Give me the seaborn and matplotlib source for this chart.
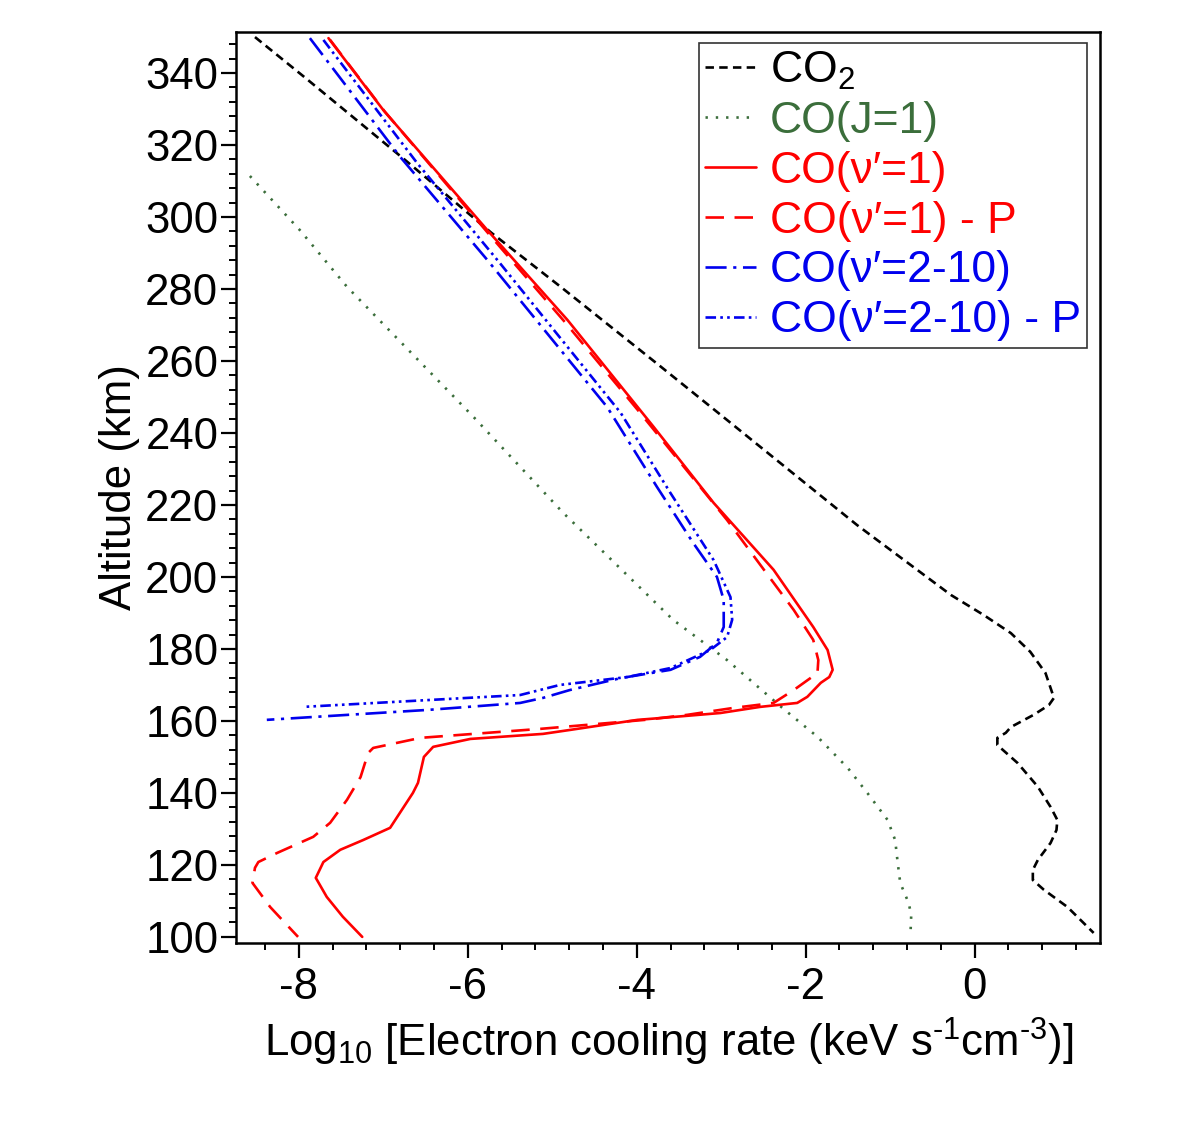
"""Electron cooling rate profiles vs altitude."""

import numpy as np
import pandas as pd
import seaborn as sns
import matplotlib
matplotlib.use("Agg")
import matplotlib.pyplot as plt
from matplotlib.ticker import MultipleLocator

# --- data: (log10 cooling rate, altitude km) ---
co2_x = [-8.52, -7.92, -6.74, -5.72, -4.90, -3.74, -2.93, -1.39, -0.28, 0.11,
         0.43, 0.66, 0.84, 0.94, 0.88, 0.70, 0.43, 0.37, 0.27, 0.27, 0.51,
         0.75, 0.90, 0.98, 0.97, 0.90, 0.75, 0.69, 0.69, 0.82, 1.10, 1.41]
co2_alt = [350.0, 338.6, 315.8, 295.6, 280.6, 258.9, 243.6, 214.4, 195.0, 189.4,
           184.4, 179.2, 173.3, 166.4, 164.4, 161.7, 158.3, 156.7, 155.3, 153.3,
           148.3, 141.7, 136.1, 132.5, 129.7, 126.1, 121.4, 118.6, 115.8, 113.1,
           108.3, 101.1]

coj1_x = [-8.58, -7.99, -7.43, -5.93, -4.87, -3.57, -2.93, -2.26, -1.86, -1.50,
          -1.26, -1.03, -0.94, -0.91, -0.88, -0.78, -0.75, -0.76]
coj1_alt = [311.4, 296.4, 280.6, 244.4, 217.8, 188.1, 176.9, 163.3, 155.6, 146.9,
            139.7, 132.5, 126.9, 120.6, 115.0, 109.4, 106.1, 100.0]

cov1_x = [-7.65, -7.00, -5.77, -4.82, -3.80, -3.09, -2.38, -1.91, -1.74, -1.68,
          -1.72, -1.82, -1.98, -2.10, -2.54, -3.01, -3.72, -3.99, -4.79, -5.11,
          -5.97, -6.41, -6.52, -6.59, -6.65, -6.92, -7.24, -7.51, -7.71, -7.80,
          -7.67, -7.48, -7.25]
cov1_alt = [349.7, 329.7, 296.4, 271.4, 241.7, 220.6, 202.0, 186.1, 179.7, 174.2,
            172.2, 170.6, 166.7, 165.0, 163.9, 162.2, 160.8, 160.3, 157.5, 156.4,
            155.0, 152.8, 150.0, 142.8, 140.0, 130.3, 126.9, 124.2, 120.8, 116.4,
            111.1, 105.6, 100.0]

cov1p_x = [-7.63, -6.98, -5.77, -4.85, -3.96, -2.93, -2.14, -1.91, -1.85, -1.86,
           -2.14, -2.38, -2.86, -3.40, -3.90, -5.14, -6.56, -7.12, -7.18, -7.27,
           -7.43, -7.63, -7.83, -8.26, -8.48, -8.52, -8.55, -8.34, -8.01]
cov1p_alt = [349.2, 329.2, 295.8, 270.8, 245.6, 215.8, 190.8, 182.5, 176.9, 173.3,
             168.6, 165.0, 163.6, 161.7, 160.3, 157.8, 155.3, 152.5, 151.1, 144.4,
             138.1, 131.7, 127.8, 123.3, 120.8, 119.2, 115.0, 108.3, 100.0]

cov2_x = [-7.87, -6.80, -5.77, -4.35, -3.76, -3.33, -3.05, -2.97, -2.97, -3.05,
          -3.25, -3.60, -4.19, -4.79, -5.11, -5.38, -6.45, -8.38]
cov2_alt = [349.7, 316.7, 288.1, 247.2, 225.0, 209.4, 200.0, 193.6, 186.1, 181.7,
            177.8, 174.2, 171.9, 168.6, 166.4, 165.0, 163.1, 160.3]

cov2p_x = [-7.71, -6.60, -5.62, -4.19, -3.60, -3.09, -2.89, -2.87, -2.93, -3.13,
           -3.60, -4.11, -4.91, -5.38, -7.95]
cov2p_alt = [349.2, 315.0, 287.2, 245.6, 223.3, 204.7, 194.4, 188.1, 183.3, 179.7,
             174.7, 172.2, 170.0, 167.2, 163.9]

GREEN = "#3b6e3b"
RED = "#ff0000"
BLUE = "#0000ee"

series = [
    ("CO$_2$", co2_x, co2_alt, "black", (0, (3.2, 2.0))),
    ("CO(J=1)", coj1_x, coj1_alt, GREEN, (0, (0.9, 3.0))),
    ("CO(\u03bd\u2032=1)", cov1_x, cov1_alt, RED, "-"),
    ("CO(\u03bd\u2032=1) - P", cov1p_x, cov1p_alt, RED, (0, (7, 4))),
    ("CO(\u03bd\u2032=2-10)", cov2_x, cov2_alt, BLUE, (0, (8, 2.5, 1.2, 2.5))),
    ("CO(\u03bd\u2032=2-10) - P", cov2p_x, cov2p_alt, BLUE,
     (0, (4, 1.6, 1.0, 1.6, 1.0, 1.6))),
]

sns.set_style("ticks")
plt.rcParams["font.family"] = ["Liberation Sans", "DejaVu Sans"]
plt.rcParams["mathtext.default"] = "regular"
plt.rcParams["axes.unicode_minus"] = False
for key in ["text.color", "axes.labelcolor", "xtick.color", "ytick.color"]:
    plt.rcParams[key] = "black"

fig = plt.figure(figsize=(12, 11.28), dpi=100)
ax = fig.add_axes([0.197, 0.164, 0.72, 0.8076])

for label, xs, ys, color, ls in series:
    df = pd.DataFrame({"rate": xs, "alt": ys})
    sns.lineplot(data=df, x="rate", y="alt", sort=False, estimator=None,
                 color=color, linestyle=ls, linewidth=1.9, label=label, ax=ax)

ax.set_xlim(-8.74, 1.49)
ax.set_ylim(98.3, 351.4)
ax.xaxis.set_major_locator(MultipleLocator(2))
ax.xaxis.set_minor_locator(MultipleLocator(0.4))
ax.yaxis.set_major_locator(MultipleLocator(20))
ax.yaxis.set_minor_locator(MultipleLocator(4))
ax.set_yticks(np.arange(100, 341, 20))

ax.tick_params(which="major", direction="out", length=11, width=1.6,
               labelsize=31.5, pad=2, color="black", labelcolor="black")
ax.tick_params(which="minor", direction="out", length=5, width=1.4, color="black")
ax.tick_params(axis="x", which="major", pad=6)
for side in ["left", "right", "top", "bottom"]:
    ax.spines[side].set_visible(True)
    ax.spines[side].set_linewidth(1.8)
    ax.spines[side].set_color("black")

ax.set_xlabel("Log$_{10}$ [Electron cooling rate (keV s$^{\u2010 1}$cm$^{\u2010 3}$)]",
              fontsize=31.5, labelpad=6)
ax.set_ylabel("Altitude (km)", fontsize=31.5, labelpad=4)

leg = ax.legend(loc="upper right", bbox_to_anchor=(0.985, 0.988), fontsize=32,
                frameon=True, fancybox=False, edgecolor="black",
                handlelength=1.15, handletextpad=0.3, labelspacing=0.2,
                borderpad=0.15, borderaxespad=0.0)
leg.get_frame().set_linewidth(1.2)
for text, (_, _, _, color, _) in zip(leg.get_texts(), series):
    text.set_color(color)

fig.savefig("out.png", dpi=100)
